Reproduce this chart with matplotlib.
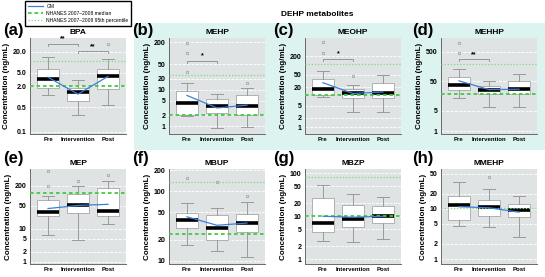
import numpy as np
import matplotlib
matplotlib.use('Agg')
import matplotlib.pyplot as plt
from matplotlib.lines import Line2D
from matplotlib.patches import Rectangle

plt.rcParams['font.family'] = ['Liberation Sans', 'DejaVu Sans']

groups = ['Pre', 'Intervention', 'Post']

# box stats per group: whisker low, q1, median, q3, whisker high
bpa_box = [[1.1, 1.8, 3.3, 6.5, 14], [0.3, 0.75, 1.4, 1.8, 3.0], [0.6, 1.7, 3.9, 6.5, 12]]
bpa_out = [[], [], [34]]
bpa_gm = [3.7, 1.2, 3.9]

mehp_box = [[1.9, 2.0, 4.4, 9.5, 15], [0.9, 2.3, 3.7, 5.5, 7.5], [0.95, 2.1, 3.7, 7.2, 11]]
mehp_out = [[31, 100, 190], [], [15]]
mehp_gm = [7.0, 3.2, 3.8]

meohp_box = [[9.3, 11, 18, 37, 70], [3.2, 9, 13, 18, 24], [3.1, 9, 13, 28, 50]]
meohp_out = [[255, 575], [47], []]
meohp_gm = [28, 12.5, 14]

mehhp_box = [[14, 26, 37, 70, 131], [6.5, 18, 26, 34, 50], [6.5, 19, 27, 50, 91]]
mehhp_out = [[480, 1000], [], []]
mehhp_gm = [52, 26, 27]

mep_box = [[6.6, 24, 33, 73, 99], [4.6, 30, 51, 116, 200], [14, 24, 34, 170, 285]]
mep_out = [[200, 560], [285], [435]]
mep_gm = [41, 51, 55]

mbup_box = [[17, 30, 39, 49, 69], [14, 20, 29.5, 45, 57], [11.5, 26, 34.5, 48, 70]]
mbup_out = [[155], [135], [87]]
mbup_gm = [43, 32.5, 35]

mbzp_box = [[2.7, 4.2, 7.0, 26, 52], [2.5, 5.7, 8.8, 18, 32], [3.0, 6.9, 10, 17, 28]]
mbzp_out = [[], [], []]
mbzp_gm = [10, 9.5, 10]

mmehp_box = [[4.5, 6.0, 12, 18, 34], [4.3, 7.2, 10.8, 15, 25], [2.8, 6.8, 9.4, 12.5, 18]]
mmehp_out = [[], [43], []]
mmehp_gm = [11, 10.5, 8.6]

# NHANES 2007-2008 reference values (median, 95th percentile)
nhanes_median = {'BPA': 2.0, 'MEHP': 2.0, 'MEOHP': 11, 'MEHHP': 19,
                 'MEP': 125, 'MBUP': 24, 'MBZP': 10, 'MMEHP': None}
nhanes_p95 = {'BPA': 11, 'MEHP': 25, 'MEOHP': 113, 'MEHHP': 195,
              'MEP': None, 'MBUP': 136, 'MBZP': 80, 'MMEHP': 10.5}

# significance brackets: (from, to, height, stars)
brackets = {'BPA': [(1, 2, 34, '**'), (2, 3, 21, '**')],
            'MEHP': [(1, 2, 62, '*')],
            'MEOHP': [(1, 2, 170, '*')],
            'MEHHP': [(1, 2, 290, '**')]}

panels = [
    ('(a)', 'BPA', bpa_box, bpa_out, bpa_gm, (0.085, 50), [0.1, 0.5, 2.0, 5.0, 20.0], ['0.1', '0.5', '2.0', '5.0', '20.0']),
    ('(b)', 'MEHP', mehp_box, mehp_out, mehp_gm, (0.62, 260), [1, 2, 5, 10, 20, 50, 200], None),
    ('(c)', 'MEOHP', meohp_box, meohp_out, meohp_gm, (0.6, 800), [1, 2, 5, 20, 50, 200], None),
    ('(d)', 'MEHHP', mehhp_box, mehhp_out, mehhp_gm, (0.8, 1500), [1, 5, 50, 500], None),
    ('(e)', 'MEP', mep_box, mep_out, mep_gm, (0.85, 650), [1, 2, 5, 10, 50, 200], None),
    ('(f)', 'MBUP', mbup_box, mbup_out, mbup_gm, (9, 210), [10, 20, 50, 100, 200], None),
    ('(g)', 'MBZP', mbzp_box, mbzp_out, mbzp_gm, (0.78, 125), [1, 2, 5, 10, 20, 50, 100], None),
    ('(h)', 'MMEHP', mmehp_box, mmehp_out, mmehp_gm, (0.8, 62), [1, 2, 5, 10, 20, 50], None),
]

W, H = 545, 277
fig = plt.figure(figsize=(W / 100, H / 100), dpi=100)

green = '#3fcc3f'
blue = '#3b7fd9'
gray = '#9a9a9a'

# cyan band behind the DEHP metabolites
band = Rectangle((134 / W, 1 - 150 / H), 1 - 134 / W, 127 / H,
                 transform=fig.transFigure, facecolor='#dcf3f0',
                 edgecolor='none', zorder=-10)
fig.add_artist(band)
fig.text(317 / W, 1 - 15 / H, 'DEHP metabolites', ha='center', va='center',
         fontsize=6, fontweight='bold')

col_left = [30, 169, 305, 441]
rows = [(38, 134), (169, 264)]

for i, (tag, name, box, out, gm, ylim, ticks, tlabels) in enumerate(panels):
    r, c = divmod(i, 4)
    top, bot = rows[r]
    ax = fig.add_axes([col_left[c] / W, 1 - bot / H, 96 / W, (bot - top) / H])
    ax.set_facecolor('#dfe3e3')
    ax.set_yscale('log')

    stats = []
    for j, b in enumerate(box):
        stats.append({'whislo': b[0], 'q1': b[1], 'med': b[2], 'q3': b[3],
                      'whishi': b[4], 'fliers': out[j], 'label': groups[j]})
    ax.bxp(stats, positions=[1, 2, 3], widths=0.75, patch_artist=True,
           boxprops=dict(facecolor='white', edgecolor='#b0b0b0', lw=0.7),
           medianprops=dict(color='black', lw=2.6, solid_capstyle='butt'),
           whiskerprops=dict(color=gray, lw=0.7),
           capprops=dict(color=gray, lw=0.7), capwidths=0.38,
           flierprops=dict(marker='o', markersize=1.8, markerfacecolor='none',
                           markeredgecolor=gray, markeredgewidth=0.5))

    if nhanes_median[name]:
        ax.axhline(nhanes_median[name], color=green, lw=1.3, ls=(0, (2, 1.6)), zorder=4)
    if nhanes_p95[name]:
        ax.axhline(nhanes_p95[name], color='#7ddc7d', lw=0.9, ls=(0, (1, 1.5)), zorder=4)
    ax.plot([1, 2, 3], gm, color=blue, lw=0.9, zorder=5)

    for x0, x1, h, stars in brackets.get(name, []):
        ax.plot([x0, x0, x1, x1], [h * 0.86, h, h, h * 0.86], color='#8a8a8a', lw=0.6)
        ax.text((x0 + x1) / 2, h * 1.08, stars, ha='center', va='bottom',
                fontsize=5, fontweight='bold')

    ax.set_xlim(0.4, 3.6)
    ax.set_ylim(*ylim)
    ax.set_yticks(ticks)
    ax.set_yticklabels(tlabels if tlabels else [str(t) for t in ticks],
                       fontsize=5, fontweight='bold')
    ax.minorticks_off()
    ax.set_xticks([1, 2, 3])
    ax.set_xticklabels(groups, fontsize=4.3, fontweight='bold')
    ax.tick_params(length=0, pad=2.5)
    ax.grid(axis='y', color='white', lw=0.6, ls='--')
    ax.set_axisbelow(True)
    for s in ['top', 'right']:
        ax.spines[s].set_visible(False)
    for s in ['left', 'bottom']:
        ax.spines[s].set_color('#6a6a6a')
        ax.spines[s].set_linewidth(0.7)
    ax.set_title(name, fontsize=6, fontweight='bold', pad=3)
    ax.set_ylabel('Concentration (ng/mL)', fontsize=5.8, fontweight='bold', labelpad=2)

    lx = [3, 132, 273, 412][c]
    ly = [31, 158][r]
    fig.text(lx / W, 1 - ly / H, tag, fontsize=12, fontweight='bold',
             ha='left', va='center')

handles = [Line2D([], [], color=blue, lw=0.9),
           Line2D([], [], color=green, lw=1.3, ls=(0, (2, 1.6))),
           Line2D([], [], color='#7ddc7d', lw=0.9, ls=(0, (1, 1.5)))]
labels = ['GM', 'NHANES 2007\u20132008 median', 'NHANES 2007\u20132008 95th percentile']
fig.legend(handles, labels, loc='upper left', bbox_to_anchor=(25 / W, 1 - 1 / H),
           fontsize=3.6, frameon=True, fancybox=False, edgecolor='black',
           framealpha=1, borderpad=0.5, labelspacing=0.45, handlelength=3.0,
           handletextpad=0.8, borderaxespad=0)

fig.savefig('out.png', dpi=100)
